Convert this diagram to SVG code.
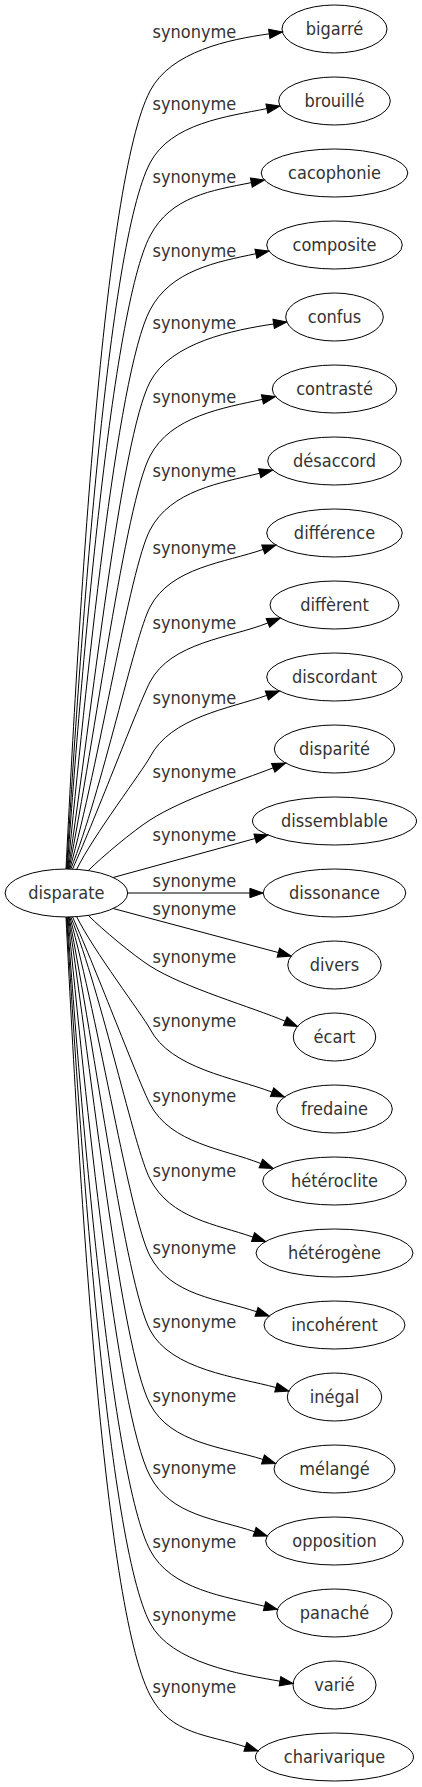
<svg xmlns="http://www.w3.org/2000/svg" width="422" height="1787" viewBox="0 0 422 1787">
<defs>
<style>
.n ellipse{fill:none;stroke:#000;stroke-width:1}
text{font-family:"DejaVu Sans Condensed","DejaVu Sans",sans-serif;font-stretch:condensed;font-size:18px;fill:#333;text-anchor:middle}
#edges path{fill:none;stroke:#000;stroke-width:1;marker-end:url(#ah)}
</style>
<marker id="ah" markerUnits="userSpaceOnUse" markerWidth="14" markerHeight="10" refX="0" refY="4.67" orient="auto" overflow="visible"><path d="M0,0L13.3,4.67L0,9.34Z" fill="#000" stroke="#000" stroke-width="1"/></marker>
</defs>
<rect width="422" height="1787" fill="#fff"/>
<g id="edges">
<g id="e0"><path d="M66,869 C78.42,620.34 103.17,180.61 150,91 C170.8,51.1 229.63,39.39 269.23,33.84"/><text x="194.4" y="38">synonyme</text></g>
<g id="e1"><path d="M66.6,869 C80.13,643.49 107.51,244.32 150,163 C170.8,123.1 227.63,116.45 266.86,108.61"/><text x="194.4" y="110">synonyme</text></g>
<g id="e2"><path d="M67.2,869 C81.34,666.93 111.9,308.91 150,236 C170.8,196.1 212.11,190.45 251.34,182.61"/><text x="194.4" y="183">synonyme</text></g>
<g id="e3"><path d="M67.8,869 C85.6,691.01 116.35,374.39 150,310 C170.8,270.1 216.74,261.95 255.88,253.73"/><text x="194.4" y="257">synonyme</text></g>
<g id="e4"><path d="M68.4,869 C91.51,714.89 120.69,438.09 150,382 C170.8,342.1 234.09,329.9 273.65,323.97"/><text x="194.4" y="329">synonyme</text></g>
<g id="e5"><path d="M69,869 C94.92,739.4 125.14,503.57 150,456 C170.8,416.1 223.34,407.95 262.41,399.36"/><text x="194.4" y="403">synonyme</text></g>
<g id="e6"><path d="M69.8,869 C99.05,764.55 129.6,569.05 150,530 C170.8,490.1 220.89,482.93 259.7,473.23"/><text x="194.4" y="477">synonyme</text></g>
<g id="e7"><path d="M70.8,869 C101.94,791.16 134.23,637.18 150,607 C170.8,567.1 225.49,562.6 263.25,549.39"/><text x="194.4" y="554">synonyme</text></g>
<g id="e8"><path d="M72.5,869.1 C97.07,814.5 138.74,703.55 150,682 C170.8,642.1 230.81,637.8 267.95,622.94"/><text x="194.4" y="629">synonyme</text></g>
<g id="e9"><path d="M76.7,869.4 C92.26,836.97 143.24,769.94 150,757 C170.8,717.1 229.09,708.6 266.85,695.39"/><text x="194.4" y="704">synonyme</text></g>
<g id="e10"><path d="M88.3,870.6 C102.4,856.5 133.2,830.8 150,820 C183.7,798.4 240.6,780.55 273.21,767.83"/><text x="194.4" y="778">synonyme</text></g>
<g id="e11"><path d="M113.3,877.45 L255.17,838.52"/><text x="194.4" y="841">synonyme</text></g>
<g id="e12"><path d="M127.65,893 L249.9,893"/><text x="194.4" y="887">synonyme</text></g>
<g id="e13"><path d="M113.3,908.55 L278.35,952.57"/><text x="194.4" y="915">synonyme</text></g>
<g id="e14"><path d="M88.3,915.4 C102.4,929.5 133.2,955.2 150,966 C183.7,987.6 253.08,1007.42 285.23,1021.25"/><text x="194.4" y="963">synonyme</text></g>
<g id="e15"><path d="M76.7,916.6 C92.26,949.03 143.24,1016.06 150,1029 C170.8,1068.9 234.79,1077.64 272.06,1092.17"/><text x="194.4" y="1027">synonyme</text></g>
<g id="e16"><path d="M72.5,916.9 C97.07,971.5 138.74,1082.45 150,1104 C170.8,1143.9 223.71,1148.7 260.85,1163.56"/><text x="194.4" y="1102">synonyme</text></g>
<g id="e17"><path d="M70.8,917 C101.94,994.84 134.23,1148.82 150,1179 C170.8,1218.9 215.29,1223.9 253.05,1237.11"/><text x="194.4" y="1177">synonyme</text></g>
<g id="e18"><path d="M69.8,917 C99.05,1021.45 129.6,1216.95 150,1256 C170.8,1295.9 218.69,1298.84 256.56,1311.72"/><text x="194.4" y="1254">synonyme</text></g>
<g id="e19"><path d="M69,917 C94.92,1046.6 125.14,1282.43 150,1330 C170.8,1369.9 237.34,1377.1 275.96,1387.53"/><text x="194.4" y="1328">synonyme</text></g>
<g id="e20"><path d="M68.4,917 C91.51,1071.11 120.69,1347.91 150,1404 C170.8,1443.9 224.86,1447.25 262.95,1459.45"/><text x="194.4" y="1402">synonyme</text></g>
<g id="e21"><path d="M67.8,917 C85.6,1094.99 116.35,1411.61 150,1476 C170.8,1515.9 216.75,1518.84 254.62,1531.72"/><text x="194.4" y="1474">synonyme</text></g>
<g id="e22"><path d="M67.2,917 C81.34,1119.07 111.9,1477.09 150,1550 C170.8,1589.9 225.71,1596.57 264.52,1606.27"/><text x="194.4" y="1548">synonyme</text></g>
<g id="e23"><path d="M66.6,917 C80.13,1142.51 107.51,1541.68 150,1623 C170.8,1662.9 240.58,1674.31 279.98,1681.21"/><text x="194.4" y="1621">synonyme</text></g>
<g id="e24"><path d="M66,917 C78.42,1165.66 103.17,1605.39 150,1695 C170.8,1734.9 207.39,1734.3 245.38,1746.83"/><text x="194.4" y="1693">synonyme</text></g>
</g>
<g id="disparate" class="n"><ellipse cx="66.4" cy="893" rx="61.3" ry="24"/><text x="66.4" y="898.5">disparate</text></g>
<g id="bigarre" class="n"><ellipse cx="334.5" cy="29" rx="52.5" ry="24"/><text x="334.5" y="34.5">bigarré</text></g>
<g id="brouille" class="n"><ellipse cx="334.5" cy="101" rx="55.8" ry="24"/><text x="334.5" y="106.5">brouillé</text></g>
<g id="cacophonie" class="n"><ellipse cx="334.5" cy="173" rx="73.3" ry="24"/><text x="334.5" y="178.5">cacophonie</text></g>
<g id="composite" class="n"><ellipse cx="334.5" cy="245" rx="67.8" ry="24"/><text x="334.5" y="250.5">composite</text></g>
<g id="confus" class="n"><ellipse cx="334.5" cy="317" rx="48.8" ry="24"/><text x="334.5" y="322.5">confus</text></g>
<g id="contraste" class="n"><ellipse cx="334.5" cy="389" rx="62.2" ry="24"/><text x="334.5" y="394.5">contrasté</text></g>
<g id="desaccord" class="n"><ellipse cx="334.5" cy="461" rx="66.8" ry="24"/><text x="334.5" y="466.5">désaccord</text></g>
<g id="difference" class="n"><ellipse cx="334.5" cy="533" rx="67.8" ry="24"/><text x="334.5" y="538.5">différence</text></g>
<g id="different" class="n"><ellipse cx="334.5" cy="605" rx="64.5" ry="24"/><text x="334.5" y="610.5">diffèrent</text></g>
<g id="discordant" class="n"><ellipse cx="334.5" cy="677" rx="67.8" ry="24"/><text x="334.5" y="682.5">discordant</text></g>
<g id="disparite" class="n"><ellipse cx="334.5" cy="749" rx="60.2" ry="24"/><text x="334.5" y="754.5">disparité</text></g>
<g id="dissemblable" class="n"><ellipse cx="334.5" cy="821" rx="82" ry="24"/><text x="334.5" y="826.5">dissemblable</text></g>
<g id="dissonance" class="n"><ellipse cx="334.5" cy="893" rx="71.3" ry="24"/><text x="334.5" y="898.5">dissonance</text></g>
<g id="divers" class="n"><ellipse cx="334.5" cy="965" rx="46.7" ry="24"/><text x="334.5" y="970.5">divers</text></g>
<g id="ecart" class="n"><ellipse cx="334.5" cy="1037" rx="41.2" ry="24"/><text x="334.5" y="1042.5">écart</text></g>
<g id="fredaine" class="n"><ellipse cx="334.5" cy="1109" rx="57.8" ry="24"/><text x="334.5" y="1114.5">fredaine</text></g>
<g id="heteroclite" class="n"><ellipse cx="334.5" cy="1181" rx="71.8" ry="24"/><text x="334.5" y="1186.5">hétéroclite</text></g>
<g id="heterogene" class="n"><ellipse cx="334.5" cy="1253" rx="78.5" ry="24"/><text x="334.5" y="1258.5">hétérogène</text></g>
<g id="incoherent" class="n"><ellipse cx="334.5" cy="1325" rx="70.5" ry="24"/><text x="334.5" y="1330.5">incohérent</text></g>
<g id="inegal" class="n"><ellipse cx="334.5" cy="1397" rx="47.2" ry="24"/><text x="334.5" y="1402.5">inégal</text></g>
<g id="melange" class="n"><ellipse cx="334.5" cy="1469" rx="60.5" ry="24"/><text x="334.5" y="1474.5">mélangé</text></g>
<g id="opposition" class="n"><ellipse cx="334.5" cy="1541" rx="68.8" ry="24"/><text x="334.5" y="1546.5">opposition</text></g>
<g id="panache" class="n"><ellipse cx="334.5" cy="1613" rx="57.7" ry="24"/><text x="334.5" y="1618.5">panaché</text></g>
<g id="varie" class="n"><ellipse cx="334.5" cy="1685" rx="41.5" ry="24"/><text x="334.5" y="1690.5">varié</text></g>
<g id="charivarique" class="n"><ellipse cx="334.5" cy="1757" rx="79" ry="24"/><text x="334.5" y="1762.5">charivarique</text></g>
</svg>
